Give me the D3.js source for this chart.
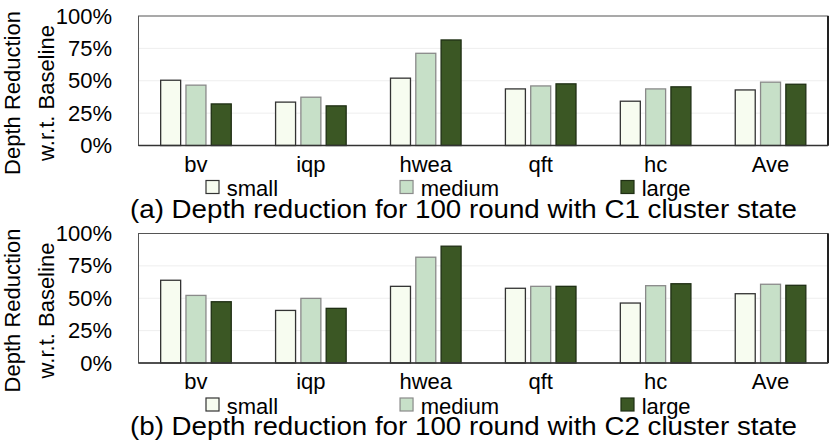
<!DOCTYPE html>
<html>
<head>
<meta charset="utf-8">
<script src="https://cdn.jsdelivr.net/npm/d3@7"></script>
<style>
  body { margin: 0; background: #fff; }
  svg { display: block; }
  text { font-family: "Liberation Sans", Arial, sans-serif; fill: #000; }
</style>
</head>
<body>
<div id="chart"></div>
<script>
// categories and series
var categories = ["bv", "iqp", "hwea", "qft", "hc", "Ave"];
var seriesNames = ["small", "medium", "large"];
var yTicks = [0, 25, 50, 75, 100];

// (a) C1 cluster state, percent depth reduction
var c1Small  = [50.4, 33.5, 52.0, 43.7, 34.2, 42.9];
var c1Medium = [46.6, 37.3, 71.2, 46.0, 43.7, 48.9];
var c1Large  = [32.1, 30.6, 81.5, 47.6, 45.3, 47.3];

// (b) C2 cluster state
var c2Small  = [63.9, 40.6, 59.2, 57.7, 46.3, 53.5];
var c2Medium = [52.2, 49.9, 81.7, 59.2, 59.7, 60.8];
var c2Large  = [47.3, 42.2, 90.2, 59.2, 61.2, 60.0];

var titles = [
    "(a) Depth reduction for 100 round with C1 cluster state",
    "(b) Depth reduction for 100 round with C2 cluster state"
];

var fills   = ["#f7fcf0", "#c7e0c8", "#3b5724"];
var strokes = ["#333333", "#8a8a8a", "#1f2f14"];

var width = 830;
var height = 442;
var plotLeft = 138.5;
var plotRight = 828;
var plotH = 129.5;
var panelTops = [16, 233.5];

var panels = [
    { title: titles[0], values: [c1Small, c1Medium, c1Large] },
    { title: titles[1], values: [c2Small, c2Medium, c2Large] }
];

var svg = d3.select("#chart").append("svg")
    .attr("width", width)
    .attr("height", height);

var x = d3.scaleBand()
    .domain(categories)
    .range([plotLeft, plotRight])
    .padding(0);

// bars inside each category group
var xs = d3.scaleBand()
    .domain(seriesNames)
    .range([0, x.bandwidth()])
    .paddingInner(0.21)
    .paddingOuter(0.876);

var y = d3.scaleLinear()
    .domain([0, 100])
    .range([plotH, 0]);

panels.forEach(function(panel, pi) {
    var g = svg.append("g")
        .attr("transform", "translate(0," + panelTops[pi] + ")");

    // light gridlines
    g.selectAll(".grid")
        .data(yTicks.filter(function(t) { return t > 0 && t < 100; }))
      .enter().append("line")
        .attr("x1", plotLeft)
        .attr("x2", plotRight)
        .attr("y1", function(d) { return y(d); })
        .attr("y2", function(d) { return y(d); })
        .style("stroke", "#eeeeee")
        .style("stroke-width", 1);

    // bars
    var rows = [];
    categories.forEach(function(cat, ci) {
        seriesNames.forEach(function(s, si) {
            rows.push({ cat: cat, series: s, si: si, value: panel.values[si][ci] });
        });
    });

    g.selectAll(".bar")
        .data(rows)
      .enter().append("rect")
        .attr("class", "bar")
        .attr("x", function(d) { return x(d.cat) + xs(d.series); })
        .attr("y", function(d) { return y(d.value); })
        .attr("width", xs.bandwidth())
        .attr("height", function(d) { return plotH - y(d.value); })
        .style("fill", function(d) { return fills[d.si]; })
        .style("stroke", function(d) { return strokes[d.si]; })
        .style("stroke-width", 1.3);

    // frame
    g.append("rect")
        .attr("x", plotLeft)
        .attr("y", 0)
        .attr("width", plotRight - plotLeft)
        .attr("height", plotH)
        .style("fill", "none")
        .style("stroke", "#555")
        .style("stroke-width", 1);
    g.append("line")
        .attr("x1", plotRight).attr("x2", plotRight)
        .attr("y1", 0).attr("y2", plotH)
        .style("stroke", "#222").style("stroke-width", 2);
    g.append("line")
        .attr("x1", plotLeft).attr("x2", plotRight)
        .attr("y1", plotH).attr("y2", plotH)
        .style("stroke", "#333").style("stroke-width", 1.5);

    // y axis labels
    var yAxis = g.append("g")
        .attr("transform", "translate(" + plotLeft + ",0)")
        .call(d3.axisLeft(y).tickValues(yTicks)
            .tickFormat(function(d) { return d + "%"; })
            .tickSize(0).tickPadding(26.5));
    yAxis.select(".domain").remove();
    yAxis.selectAll("text")
        .style("font-family", "'Liberation Sans', Arial, sans-serif")
        .style("font-size", "22px")
        .attr("dy", "0.32em");

    // category labels
    var xAxis = g.append("g")
        .attr("transform", "translate(0," + plotH + ")")
        .call(d3.axisBottom(x).tickSize(0).tickPadding(10.5));
    xAxis.select(".domain").remove();
    xAxis.selectAll("text")
        .style("font-family", "'Liberation Sans', Arial, sans-serif")
        .style("font-size", "22px");

    // y title, two lines
    var yMid = 77;
    g.append("text")
        .attr("transform", "translate(20," + yMid + ") rotate(-90)")
        .attr("text-anchor", "middle")
        .style("font-size", "22px")
        .text("Depth Reduction");
    g.append("text")
        .attr("transform", "translate(54," + yMid + ") rotate(-90)")
        .attr("text-anchor", "middle")
        .style("font-size", "22px")
        .text("w.r.t. Baseline");

    // legend, laid out left to right
    var lg = g.append("g").attr("transform", "translate(0," + (plotH + 35) + ")");
    var lx = 206;
    seriesNames.forEach(function(s, si) {
        lg.append("rect")
            .attr("x", lx).attr("y", 0)
            .attr("width", 13).attr("height", 13)
            .style("fill", fills[si])
            .style("stroke", strokes[si])
            .style("stroke-width", 1.2);
        var t = lg.append("text")
            .attr("x", lx + 20.7)
            .attr("y", 15.5)
            .style("font-size", "22px")
            .text(s);
        lx = lx + 20.7 + t.node().getComputedTextLength() + 122;
    });

    // caption
    g.append("text")
        .attr("x", 130)
        .attr("y", plotH + 72)
        .attr("textLength", 667)
        .attr("lengthAdjust", "spacingAndGlyphs")
        .style("font-size", "25px")
        .text(panel.title);
});
</script>
</body>
</html>
